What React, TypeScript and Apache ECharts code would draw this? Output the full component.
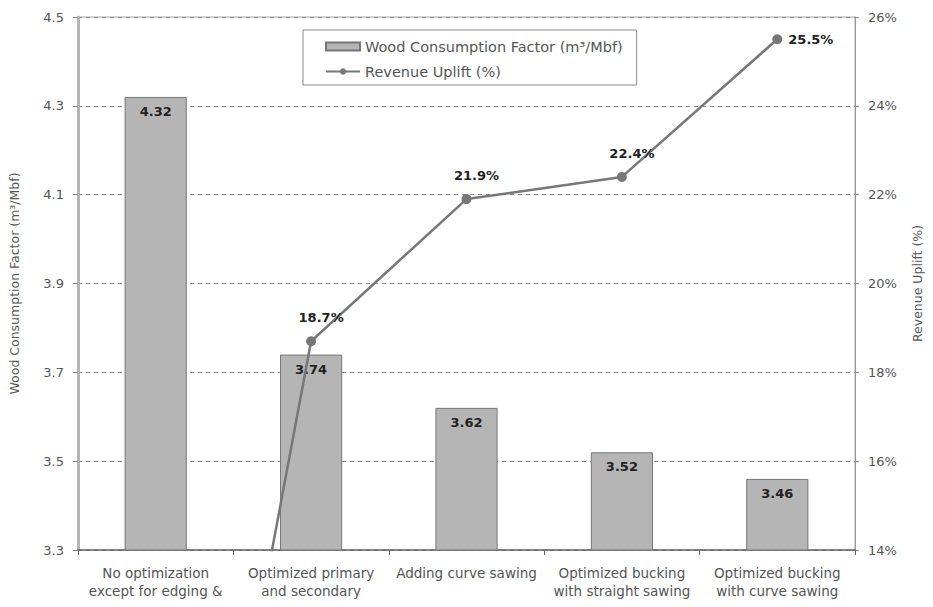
import React, { useEffect, useRef } from "react";
import * as echarts from "echarts";

const categories = [
  "No optimization\nexcept for edging &",
  "Optimized primary\nand secondary",
  "Adding curve sawing",
  "Optimized bucking\nwith straight sawing",
  "Optimized bucking\nwith curve sawing",
];
const woodFactor = [4.32, 3.74, 3.62, 3.52, 3.46];
const revenueUplift = [0, 18.7, 21.9, 22.4, 25.5];
const leftTicks = { min: 3.3, max: 4.5, interval: 0.2 };
const rightTicks = { min: 14, max: 26, interval: 2 };

const FONT = "'DejaVu Sans', 'Liberation Sans', Arial, sans-serif";

export default function App() {
  const ref = useRef<HTMLDivElement>(null);
  useEffect(() => {
    if (!ref.current) return;
    const chart = echarts.init(ref.current, undefined, { renderer: "svg" });
    const lineData = revenueUplift.map((v, i) => {
      if (i === 0) return { value: v, symbol: "none", label: { show: false } };
      if (i === revenueUplift.length - 1)
        return { value: v, label: { position: "right", offset: [0, 0], distance: 6 } };
      return { value: v };
    });
    chart.setOption({
      animation: false,
      textStyle: { fontFamily: FONT },
      grid: {
        left: 77,
        right: 78,
        top: 17,
        bottom: 57,
        show: true,
        borderColor: "#aaa",
        borderWidth: 1,
        backgroundColor: "transparent",
      },
      legend: {
        left: 303,
        top: 30,
        orient: "vertical",
        borderColor: "#888",
        borderWidth: 1,
        padding: [9, 14, 6, 22],
        itemGap: 10,
        itemWidth: 34,
        itemHeight: 8,
        backgroundColor: "#fff",
        textStyle: { fontFamily: FONT, fontSize: 14.5, color: "#555" },
        data: [
          { name: "Wood Consumption Factor (m³/Mbf)", icon: "rect" },
          { name: "Revenue Uplift (%)" },
        ],
      },
      xAxis: {
        type: "category",
        data: categories,
        boundaryGap: true,
        axisLine: { lineStyle: { color: "#666", width: 1.5 } },
        axisTick: { show: true, length: 5, lineStyle: { color: "#666" } },
        axisLabel: {
          interval: 0,
          margin: 14,
          fontSize: 13.5,
          lineHeight: 18,
          color: "#555",
          fontFamily: FONT,
        },
      },
      yAxis: [
        {
          type: "value",
          min: leftTicks.min,
          max: leftTicks.max,
          interval: leftTicks.interval,
          name: "Wood Consumption Factor (m³/Mbf)",
          nameLocation: "middle",
          nameRotate: 90,
          nameGap: 57,
          nameTextStyle: { fontSize: 12.5, color: "#555", fontFamily: FONT },
          axisLine: { show: true, lineStyle: { color: "#b5b5b5", width: 3 } },
          axisTick: { show: true, length: 5, lineStyle: { color: "#888" } },
          axisLabel: {
            margin: 14,
            fontSize: 13,
            color: "#555",
            fontFamily: FONT,
            formatter: (v: number) => v.toFixed(1),
          },
          splitLine: { show: true, lineStyle: { color: "#888", type: [4, 4], width: 1 } },
        },
        {
          type: "value",
          min: rightTicks.min,
          max: rightTicks.max,
          interval: rightTicks.interval,
          position: "right",
          name: "Revenue Uplift (%)",
          nameLocation: "middle",
          nameRotate: 90,
          nameGap: 56,
          nameTextStyle: { fontSize: 12.5, color: "#555", fontFamily: FONT },
          axisLine: { show: true, lineStyle: { color: "#999", width: 1 } },
          axisTick: { show: true, length: 4, lineStyle: { color: "#888" } },
          axisLabel: {
            margin: 13,
            fontSize: 13,
            color: "#555",
            fontFamily: FONT,
            formatter: "{value}%",
          },
          splitLine: { show: false },
        },
      ],
      series: [
        {
          name: "Wood Consumption Factor (m³/Mbf)",
          type: "bar",
          yAxisIndex: 0,
          data: woodFactor,
          barWidth: "40%",
          itemStyle: { color: "#b5b5b5", borderColor: "#777", borderWidth: 1 },
          label: {
            show: true,
            position: "insideTop",
            distance: 8,
            fontSize: 13,
            fontWeight: "bold",
            color: "#222",
            fontFamily: FONT,
            formatter: (p: any) => p.value.toFixed(2),
          },
        },
        {
          name: "Revenue Uplift (%)",
          type: "line",
          yAxisIndex: 1,
          data: lineData,
          clip: true,
          symbol: "circle",
          symbolSize: 10,
          lineStyle: { color: "#777", width: 2.5 },
          itemStyle: { color: "#777" },
          label: {
            show: true,
            position: "top",
            distance: 12,
            offset: [10, 0],
            fontSize: 13,
            fontWeight: "bold",
            color: "#222",
            fontFamily: FONT,
            formatter: (p: any) => p.value.toFixed(1) + "%",
          },
          z: 5,
        },
      ],
    });
    return () => chart.dispose();
  }, []);
  return (
    <div
      ref={ref}
      style={{ position: "fixed", left: 0, top: 0, width: 933, height: 607, background: "#fff" }}
    />
  );
}
